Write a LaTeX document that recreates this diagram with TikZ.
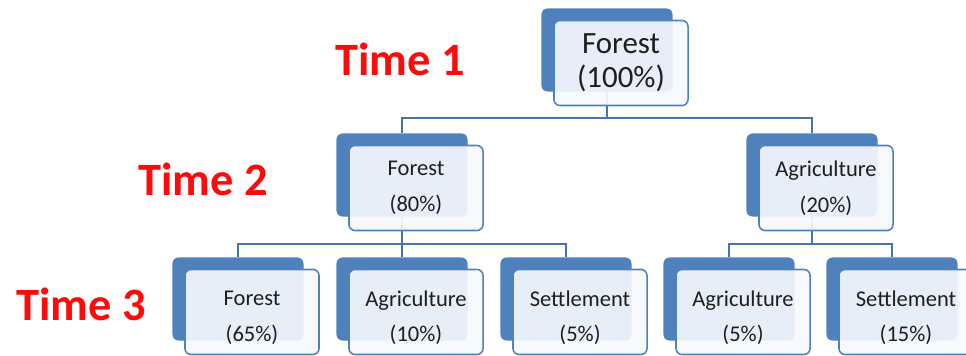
\documentclass[tikz,border=0pt]{standalone}
\usepackage{fontspec}
\setmainfont{Carlito}
\usetikzlibrary{positioning}
\definecolor{boxblue}{RGB}{79,129,189}
\definecolor{lineblue}{RGB}{70,116,178}
\definecolor{boxfill}{RGB}{246,248,252}
\definecolor{boxtext}{RGB}{30,30,30}
\definecolor{timered}{RGB}{255,10,10}

\begin{document}
\begin{tikzpicture}[x=0.025cm, y=-0.025cm,
    back/.style={rectangle, rounded corners=0.15cm, fill=boxblue, minimum width=3.275cm, minimum height=2.075cm},
    front/.style={rectangle, rounded corners=0.15cm, draw=boxblue, line width=1.1pt, fill=boxfill, fill opacity=0.92, text opacity=1, text=boxtext, minimum width=3.35cm, minimum height=2.125cm, align=center},
    link/.style={draw=lineblue, line width=1.2pt},
    time/.style={text=timered, font=\fontsize{33}{36}\selectfont\bfseries, anchor=base}]
                \useasboundingbox (0,0) rectangle (966,355);
                % back plates
                \node[back] (top) at (607,50) {};
                \node[back] (forA) at (402,175) {};
                \node[back] (agrA) at (812,175) {};
                \foreach \n/\x in {forB/238, agrB/402, setB/566, agrC/729, setC/892}{
                  \node[back] (\n) at (\x,299) {};
                }
                % tree lines
                \foreach \c in {forA, agrA}{
                  \draw[link] (top.south) -- ++(0,26.5) -| (\c.north);
                }
                \foreach \c in {forB, agrB, setB}{
                  \draw[link] (forA.south) -- ++(0,27.5) -| (\c.north);
                }
                \foreach \c in {agrC, setC}{
                  \draw[link] (agrA.south) -- ++(0,27.5) -| (\c.north);
                }
                % front boxes
                \node[front, font=\fontsize{22}{24}\selectfont] (topF) at ([shift={(14,13)}]top) {Forest\\(100\%)};
                \node[front, font=\fontsize{16}{25.5}\selectfont] (forAF) at ([shift={(14,13)}]forA) {Forest\\(80\%)};
                \node[front, font=\fontsize{16}{25.5}\selectfont] (agrAF) at ([shift={(14,13)}]agrA) {Agriculture\\(20\%)};
                \foreach \n/\t/\p in {forB/Forest/65, agrB/Agriculture/10, setB/Settlement/5, agrC/Agriculture/5, setC/Settlement/15}{
                  \node[front, font=\fontsize{16}{23}\selectfont, text depth=0pt] (\n F) at ([shift={(14,13)}]\n) {\raisebox{-6pt}{\t}\\[2pt]\raisebox{-6pt}{(\p\%)}};
                }
                % time labels
                \node[time] (t1) at (400,75) {Time 1};
                \node[time] (t2) at (203,195) {Time 2};
                \node[time] (t3) at (81,320) {Time 3};
            \end{tikzpicture}
\end{document}
